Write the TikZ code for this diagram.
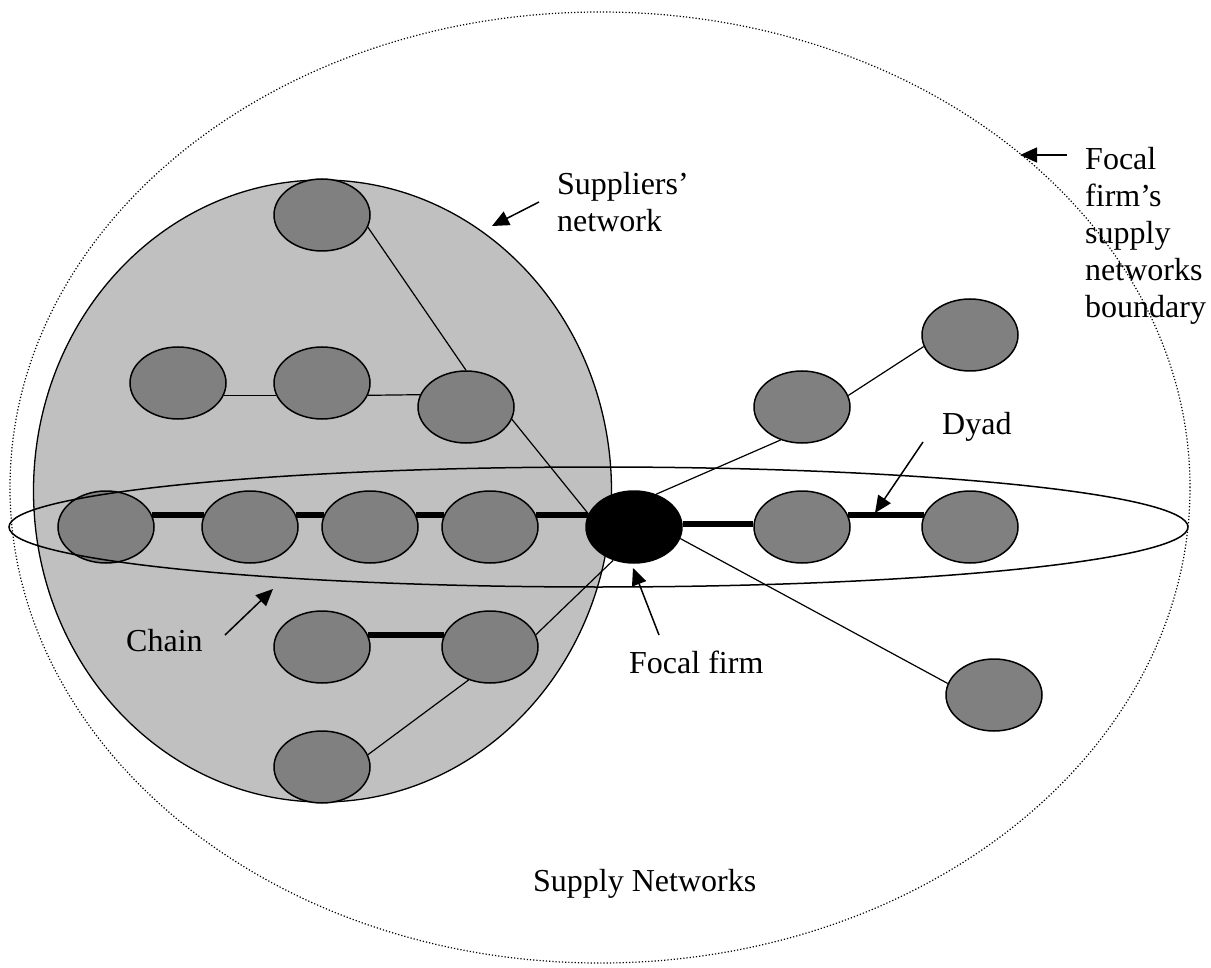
\documentclass[tikz,border=0pt]{standalone}
\usepackage{fontspec}
\setmainfont{Liberation Serif}
\usetikzlibrary{shapes.geometric,arrows.meta}
\definecolor{firmgray}{RGB}{128,128,128}
\definecolor{netgray}{RGB}{192,192,192}
\begin{document}
\begin{tikzpicture}[x=1pt,y=-1pt,
  firm/.style={ellipse, draw, line width=1.5pt, fill=firmgray,
    minimum width=96pt, minimum height=72pt, inner sep=0pt},
  focalfirm/.style={firm, fill=black},
  region/.style={ellipse, draw, inner sep=0pt},
  link/.style={line width=1.2pt},
  tie/.style={line width=6pt},
  lbl/.style={font=\fontsize{32}{37}\selectfont, inner sep=0pt,
    anchor=base west, align=left},
  pointer/.style={line width=1.5pt, -{Triangle[length=17pt,width=15pt]}}]
\useasboundingbox (0,0) rectangle (1211,968);

% network regions
\node[region, line width=1.3pt, fill=netgray,
  minimum width=578pt, minimum height=622pt] (suppliers) at (322.5,491) {};
\node[region, dotted, line width=1.2pt,
  minimum width=1180pt, minimum height=951pt] (boundary) at (600,487.5) {};

% firms
\node[firm] (s0) at (322,215) {};
\node[firm] (s1) at (178,383) {};
\node[firm] (s2) at (322,383) {};
\node[firm] (s3) at (466,407) {};
\node[firm] (c1) at (106,527) {};
\node[firm] (c2) at (250,527) {};
\node[firm] (c3) at (370,527) {};
\node[firm] (c4) at (490,527) {};
\node[focalfirm] (ff) at (634,527) {};
\node[firm] (d1) at (802,527) {};
\node[firm] (d2) at (970,527) {};
\node[firm] (u1) at (802,407) {};
\node[firm] (u2) at (970,335) {};
\node[firm] (w1) at (994,695) {};
\node[firm] (l1) at (322,647) {};
\node[firm] (l2) at (490,647) {};
\node[firm] (l3) at (322,767) {};

% strong ties
\draw[tie] (c1.15) -- (c2.165);
\draw[tie] (c2.15) -- (c3.165);
\draw[tie] (c3.15) -- (c4.165);
\draw[tie] (c4.15) -- (ff.165);
\draw[tie] (ff.4) -- (d1.176);
\draw[tie] (d1.15) -- (d2.165);
\draw[tie] (l1.15) -- (l2.165);

% other links
\draw[link] (s1.-15) -- (s2.195);
\draw[link] (s2.-15) -- (s3.165);
\draw[link] (s0.-15) -- (s3.90);
\draw[link] (s3.-15) -- (ff.164);
\draw[link] (l2.15) -- (ff.238);
\draw[link] (l3.15) -- (l2.237);
\draw[link] (ff.56) -- (u1.237);
\draw[link] (u1.14) -- (u2.194);
\draw[link] (ff.-14) -- (w1.166);

% chain ring
\node[region, line width=1.5pt,
  minimum width=1179pt, minimum height=120pt] (chain) at (598.5,527) {};

% labels (base anchor sits on the last line)
\node[lbl] (tsup) at (557,232) {Suppliers’\\network};
\node[lbl] (tchain) at (126,651) {Chain};
\node[lbl] (tfocal) at (629,673) {Focal firm};
\node[lbl] (tdyad) at (942,435) {Dyad};
\node[lbl] (tbound) at (1085,318) {Focal\\firm’s\\supply\\networks\\boundary};
\node[lbl] (tsn) at (533,891) {Supply Networks};

% pointers
\coordinate (p1a) at (539,202); \coordinate (p1b) at (492,226);
\coordinate (p2a) at (225,635); \coordinate (p2b) at (273,589);
\coordinate (p3a) at (659,635); \coordinate (p3b) at (633,568);
\coordinate (p4a) at (923,442); \coordinate (p4b) at (875,513);
\coordinate (p5a) at (1067,155); \coordinate (p5b) at (1020,155);
\draw[pointer] (p1a) -- (p1b);
\draw[pointer] (p2a) -- (p2b);
\draw[pointer] (p3a) -- (p3b);
\draw[pointer] (p4a) -- (p4b);
\draw[pointer] (p5a) -- (p5b);
\end{tikzpicture}
\end{document}
